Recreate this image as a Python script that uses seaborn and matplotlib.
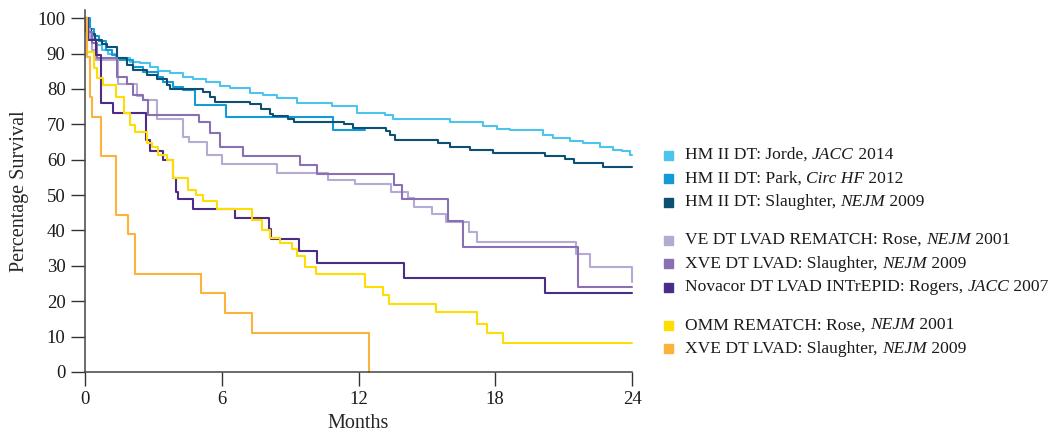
import numpy as np
import pandas as pd
import matplotlib
matplotlib.use("Agg")
import matplotlib.pyplot as plt
import seaborn as sns

# Kaplan-Meier style survival curves (months, percent survival)
jorde_x = [0, 0.05, 0.15, 0.3, 0.5, 0.75, 1.0, 1.37, 1.96, 2.4, 2.84, 3.2, 3.71, 4.3, 4.74, 5.32, 5.91, 6.35,
           7.24, 7.82, 8.41, 9.29, 10.82, 11.92, 13.16, 13.52, 14.84, 16.0, 17.47, 18.06, 18.64, 20.1, 20.54,
           21.27, 21.86, 22.59, 23.17, 23.54, 23.9, 24.0]
jorde_y = [100, 98, 96, 94, 92.5, 91, 90, 88.7, 87.7, 87.3, 86.3, 85.1, 84.5, 83.5, 82.8, 81.9, 80.9, 80.2,
           78.9, 78.2, 77.3, 75.9, 75.2, 73.3, 72.6, 71.6, 71.4, 70.7, 69.6, 68.8, 68.4, 67, 66,
           65.3, 64.6, 63.5, 62.7, 62.5, 61.3, 61.3]

park_x = [0, 0.2, 0.4, 0.6, 0.9, 1.2, 1.39, 2.12, 2.56, 3.2, 3.43, 3.87, 4.31, 4.82, 6.2, 10.86, 12.3]
park_y = [100, 97, 95, 93.5, 91, 89.5, 88.1, 86.2, 84.8, 83.5, 82, 80.4, 79.7, 75.4, 72.1, 68.5, 68.5]

hm_slaughter_x = [0, 0.1, 0.25, 0.44, 0.73, 0.95, 1.39, 1.83, 2.12, 2.71, 3.14, 3.58, 3.73, 5.19, 5.48, 5.7,
                  7.24, 7.72, 8.11, 8.23, 8.92, 9.18, 11.37, 11.74, 13.2, 13.38, 13.6, 15.47, 16.0, 16.89,
                  17.91, 20.18, 21.05, 21.45, 22.73, 24.0]
hm_slaughter_y = [100, 97, 95.5, 93.8, 92.8, 91.9, 88.6, 86.7, 85.3, 83.9, 82.9, 81.1, 80.1, 79.2, 77.8, 76.4,
                  75.6, 74.2, 73, 72.3, 71.4, 70.7, 70, 69, 68.1, 67, 65.5, 64.8, 63.5, 62.7,
                  61.8, 61, 60.1, 59.1, 58, 58]

ve_rose_x = [0, 0.1, 0.2, 0.3, 0.5, 1.45, 2.28, 2.56, 3.14, 4.29, 4.57, 5.34, 6.0, 8.41, 10.67, 11.84, 13.42,
             14.18, 14.44, 15.21, 15.86, 16.84, 17.22, 21.54, 22.15, 24.0]
ve_rose_y = [100, 97, 94, 91, 88.2, 81.5, 78, 76.8, 71.4, 66.5, 65, 61.3, 58.9, 56.1, 54.3, 53.1, 50.9,
             49.3, 46.7, 44.7, 42.5, 39.6, 36.6, 33.3, 29.7, 25.5]

xve_x = [0, 0.05, 0.3, 0.51, 1.39, 1.83, 2.12, 2.56, 2.78, 5.0, 5.48, 5.92, 6.92, 9.43, 10.16, 13.57, 13.89,
         15.93, 16.59, 21.64, 24.0]
xve_y = [100, 96, 93, 88.6, 83.4, 81.5, 78.2, 76.8, 72.6, 70.7, 67.4, 63.6, 61, 58.4, 56, 52.8, 49,
         42.7, 35.4, 23.9, 23.9]

novacor_x = [0, 0.14, 0.47, 0.7, 1.24, 2.66, 2.85, 3.43, 3.87, 3.99, 4.09, 4.75, 6.58, 8.07, 8.14, 9.38,
             10.16, 14.0, 20.18, 24.0]
novacor_y = [100, 93.8, 89.5, 75.9, 73.1, 65.5, 62.5, 59.9, 54.7, 51, 48.9, 46.2, 43.4, 40.3, 37.5, 34.3,
             30.9, 26.7, 22.2, 22.2]

omm_x = [0, 0.09, 0.41, 0.53, 0.79, 1.36, 1.71, 1.97, 2.19, 2.71, 2.94, 3.2, 3.58, 3.86, 4.5, 4.87, 5.18,
         5.78, 7.31, 7.75, 8.11, 8.55, 9.07, 9.29, 9.65, 10.13, 12.28, 13.08, 13.35, 15.39, 17.18, 17.62,
         18.32, 24.0]
omm_y = [100, 90.5, 86, 83, 81, 77.8, 73.1, 69.8, 67.9, 64.6, 63.6, 61.3, 59.9, 54.8, 51.4, 50, 48.4,
         46, 42.9, 40.1, 38, 36.5, 34.7, 32.8, 29.6, 27.7, 24.1, 21.8, 19.2, 16.9, 13.6, 10.9,
         8.3, 8.3]

xve_omm_x = [0, 0.1, 0.2, 0.3, 0.7, 1.36, 1.9, 2.19, 5.07, 6.14, 7.32, 12.46]
xve_omm_y = [100, 88.9, 77.8, 72.2, 61.1, 44.4, 38.9, 27.8, 22.2, 16.7, 11.1, 0]

series = [
    ("jorde", jorde_x, jorde_y, "#4cc4ec"),
    ("park", park_x, park_y, "#149bd7"),
    ("hm_slaughter", hm_slaughter_x, hm_slaughter_y, "#0d5073"),
    ("ve_rose", ve_rose_x, ve_rose_y, "#b4aad2"),
    ("xve", xve_x, xve_y, "#8a70b2"),
    ("novacor", novacor_x, novacor_y, "#4b2c88"),
    ("omm", omm_x, omm_y, "#ffdd00"),
    ("xve_omm", xve_omm_x, xve_omm_y, "#fbb33a"),
]

# legend entries: list of (text, italic) pieces, grouped
legend_rows = [
    [("HM II DT: Jorde, ", False), ("JACC", True), (" 2014", False)],
    [("HM II DT: Park, ", False), ("Circ HF", True), (" 2012", False)],
    [("HM II DT: Slaughter, ", False), ("NEJM", True), (" 2009", False)],
    None,
    [("VE DT LVAD REMATCH: Rose, ", False), ("NEJM", True), (" 2001", False)],
    [("XVE DT LVAD: Slaughter, ", False), ("NEJM", True), (" 2009", False)],
    [("Novacor DT LVAD INTrEPID: Rogers, ", False), ("JACC", True), (" 2007", False)],
    None,
    [("OMM REMATCH: Rose, ", False), ("NEJM", True), (" 2001", False)],
    [("XVE DT LVAD: Slaughter, ", False), ("NEJM", True), (" 2009", False)],
]

frames = []
for key, xs, ys, _ in series:
    frames.append(pd.DataFrame({"month": xs, "survival": ys, "series": key}))
df = pd.concat(frames, ignore_index=True)
palette = {key: c for key, _, _, c in series}

sns.set_style("white")
plt.rcParams["font.family"] = ["Liberation Serif", "DejaVu Serif"]
plt.rcParams["font.size"] = 12

fig = plt.figure(figsize=(10.55, 4.34), dpi=100)
ax = fig.add_axes([85 / 1055, 62 / 434, 547 / 1055, 362 / 434])

sns.lineplot(data=df, x="month", y="survival", hue="series", palette=palette, hue_order=list(palette),
             estimator=None, sort=False, units="series", drawstyle="steps-post", linewidth=1.5,
             legend=False, ax=ax)

ax.set_xlim(0, 24)
ax.set_ylim(0, 102.3)
ax.set_xticks([0, 6, 12, 18, 24])
ax.set_yticks(range(0, 101, 10))
ax.set_xlabel("Months", fontsize=14.5, labelpad=4)
ax.set_ylabel("Percentage Survival", fontsize=14.5, labelpad=6)
ax.tick_params(axis="both", direction="out", length=10, width=1, color="#333333",
               labelsize=13.5, labelcolor="#1a1a1a", pad=4, bottom=True, left=True)
for side in ["top", "right"]:
    ax.spines[side].set_visible(False)
for side in ["left", "bottom"]:
    ax.spines[side].set_color("#444444")
    ax.spines[side].set_linewidth(1.1)
for ln in ax.lines:
    ln.set_clip_on(False)

# manual legend with mixed italic text
fig.canvas.draw()
renderer = fig.canvas.get_renderer()
y_px = 155
colors = [c for _, _, _, c in series]
ci = 0
for row in legend_rows:
    if row is None:
        y_px += 14
        continue
    yf = 1 - y_px / 434
    fig.patches.append(plt.Rectangle((664 / 1055, yf - 4.5 / 434), 9 / 1055, 9 / 434,
                                     transform=fig.transFigure, color=colors[ci], figure=fig))
    x_px = 685
    for txt, ital in row:
        t = fig.text(x_px / 1055, yf, txt, fontsize=12.6, style="italic" if ital else "normal",
                     va="center", ha="left", color="#1a1a1a")
        bb = t.get_window_extent(renderer=renderer)
        x_px += bb.width
    y_px += 23.7
    ci += 1

fig.savefig("out.png", dpi=100)
